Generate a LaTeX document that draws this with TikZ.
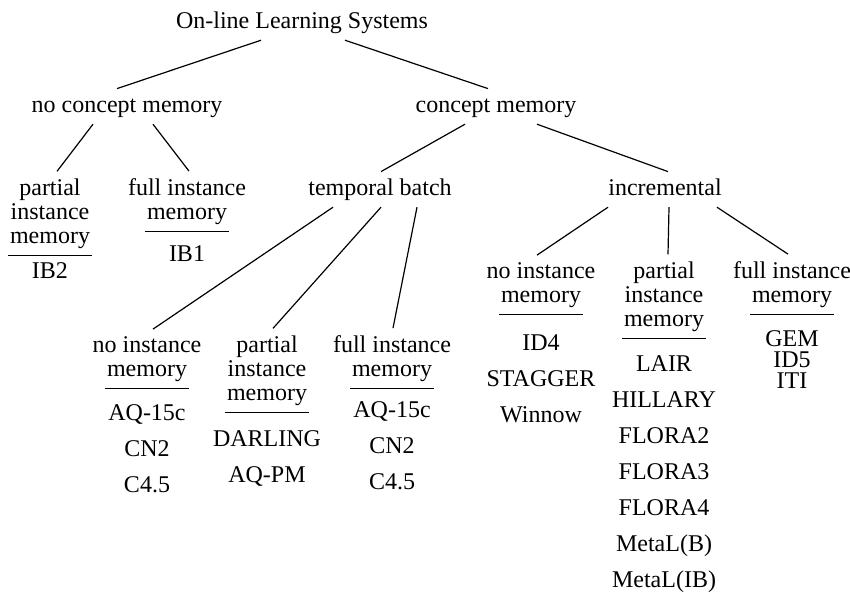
\documentclass[tikz,border=0pt]{standalone}
\usepackage{fontspec}
\setmainfont{Liberation Serif}

\tikzset{
  cat/.style={inner sep=0pt, outer sep=3.5pt, anchor=base, text height=8.2pt, text depth=2.6pt},
  hdr/.style={inner sep=0pt, outer sep=3.5pt, anchor=base, align=center},
  sys/.style={inner sep=0pt, anchor=base, align=center, font=\fontsize{12}{18}\selectfont},
}

\begin{document}
\begin{tikzpicture}[x=0.5pt, y=-0.5pt, line width=0.6pt, font=\fontsize{12}{12}\selectfont]
  \useasboundingbox (0,0) rectangle (850,591);
  \node[cat] (root) at (302,28) {On-line Learning Systems};
  \node[cat] (ncm) at (127,112) {no concept memory};
  \node[cat] (cm) at (496,112) {concept memory};
  \node[cat] (tb) at (380,195) {temporal batch};
  \node[cat] (inc) at (665,195) {incremental};

  % headers, placed by the baseline of their last line
  \node[hdr] (ncmp) at (50,243) {partial\\instance\\memory};
  \node[hdr] (ncmf) at (187,219) {full instance\\memory};
  \node[hdr] (tbn) at (147,376) {no instance\\memory};
  \node[hdr] (tbp) at (267,400) {partial\\instance\\memory};
  \node[hdr] (tbf) at (392,376) {full instance\\memory};
  \node[hdr] (incn) at (541,302) {no instance\\memory};
  \node[hdr] (incp) at (664,326) {partial\\instance\\memory};
  \node[hdr] (incf) at (792,302) {full instance\\memory};

  \node[sys] (ncmpl) at (50,278) {IB2};
  \node[sys] (ncmfl) at (187,261) {IB1};
  \node[sys] (tbnl) at (147,492) {AQ-15c\\CN2\\C4.5};
  \node[sys] (tbpl) at (267,482) {DARLING\\AQ-PM};
  \node[sys] (tbfl) at (392,489) {AQ-15c\\CN2\\C4.5};
  \node[sys] (incnl) at (541,422) {ID4\\STAGGER\\Winnow};
  \node[sys] (incpl) at (664,587) {LAIR\\HILLARY\\FLORA2\\FLORA3\\FLORA4\\MetaL(B)\\MetaL(IB)};
  \node[sys, font=\fontsize{12}{10.5}\selectfont] (incfl) at (792,388) {GEM\\ID5\\ITI};

  \path
  ([xshift=-20.5pt]root.south) edge ([xshift=-5pt]ncm.north)
  ([xshift=21.5pt]root.south) edge ([xshift=-4pt]cm.north)
  ([xshift=-17pt]ncm.south) edge ([xshift=3.5pt]ncmp.north)
  ([xshift=13pt]ncm.south) edge ([xshift=1pt]ncmf.north)
  ([xshift=-15.5pt]cm.south) edge ([xshift=0.5pt]tb.north)
  ([xshift=20.5pt]cm.south) edge ([xshift=1.5pt]inc.north)
  ([xshift=-23.5pt]tb.south) edge ([xshift=3pt]tbn.north)
  ([xshift=0.5pt]tb.south) edge ([xshift=3pt]tbp.north)
  ([xshift=18.5pt]tb.south) edge ([xshift=0.5pt]tbf.north)
  ([xshift=-28.5pt]inc.south) edge ([xshift=-2pt]incn.north)
  ([xshift=2pt]inc.south) edge ([xshift=2pt]incp.north)
  ([xshift=26pt]inc.south) edge ([xshift=-2pt]incf.north)
  ;

  % rules under the headers
  \path
  ([xshift=-21pt]ncmp.south) edge ([xshift=21pt]ncmp.south)
  ([xshift=-21pt]ncmf.south) edge ([xshift=21pt]ncmf.south)
  ([xshift=-21pt]tbn.south) edge ([xshift=21pt]tbn.south)
  ([xshift=-21pt]tbp.south) edge ([xshift=21pt]tbp.south)
  ([xshift=-21pt]tbf.south) edge ([xshift=21pt]tbf.south)
  ([xshift=-21pt]incn.south) edge ([xshift=21pt]incn.south)
  ([xshift=-21pt]incp.south) edge ([xshift=21pt]incp.south)
  ([xshift=-21pt]incf.south) edge ([xshift=21pt]incf.south)
  ;
\end{tikzpicture}
\end{document}
